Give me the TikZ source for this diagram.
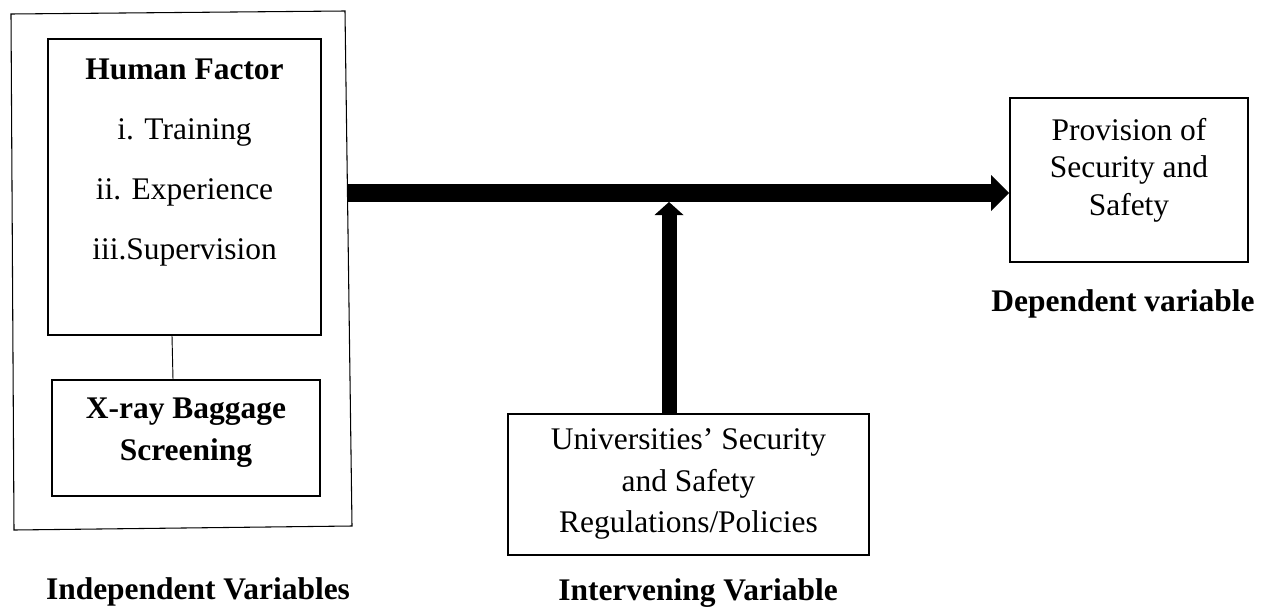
\documentclass[tikz,border=0pt]{standalone}
\usepackage{fontspec}
\setmainfont{Liberation Serif}
\usetikzlibrary{arrows.meta,calc}

\newcommand{\txtsize}[1]{\fontsize{23.6}{#1}\selectfont}

\begin{document}
\begin{tikzpicture}[x=0.75pt,y=0.75pt,yscale=-1,xscale=1,
  box/.style={draw,line width=1.3pt,inner sep=0pt},
  txt/.style={align=center,inner sep=0.75pt},
  fatarrow/.style={line width=13.5pt,-{Triangle[length=13.5pt,width=27pt,line width=0pt]}},
  uparrow/.style={line width=11.25pt,-{Triangle[length=9.75pt,width=21.75pt,line width=0pt]}}
]
\useasboundingbox (0,0) rectangle (1267,607);

%Outer frame
\draw [line width=0.8pt] (11,14) -- (345,11) -- (352,526) -- (14,530) -- cycle ;

%Human factor box
\node [box,minimum width=204.75pt,minimum height=222pt] (hf) at (184.5,187) {};
\node [txt,font=\txtsize{45pt}] (hftext) at (184.5,162.5) {\textbf{Human Factor}\\i. Training\\ii. Experience\\iii.Supervision};

%X-ray box
\node [box,minimum width=201pt,minimum height=87pt] (xray) at (186,438) {};
\node [txt,font=\txtsize{31pt}\bfseries] (xraytext) at (186,432.5) {X-ray Baggage\\Screening};

\draw [line width=0.7pt] ($(hf.south)+(-12.5,0)$) -- ($(xray.north)+(-13,0)$) ;

%Dependent box
\node [box,minimum width=178.5pt,minimum height=123pt] (dep) at (1129,180) {};
\node [txt,font=\txtsize{28pt}] (deptext) at (1129,170) {Provision of\\Security and\\Safety};

%Intervening box
\node [box,minimum width=270.75pt,minimum height=105.75pt] (interv) at (688.5,484.5) {};
\node [txt,font=\txtsize{31pt}] (intervtext) at (688.5,484) {Universities’ Security\\and Safety\\Regulations/Policies};

%Arrows
\coordinate (frameE) at (347,193);
\coordinate (join) at (669,202);
\draw [fatarrow] (frameE) -- (dep.west |- frameE) ;
\draw [uparrow] (interv.north -| join) -- (join) ;

% Text Node
\node [txt,font=\txtsize{28pt}\bfseries] (indeplabel) at (198,592) {Independent Variables};
% Text Node
\node [txt,font=\txtsize{28pt}\bfseries] (intervlabel) at (698,593) {Intervening Variable};
% Text Node
\node [txt,font=\txtsize{28pt}\bfseries] (deplabel) at (1123,304) {Dependent variable};

\end{tikzpicture}
\end{document}
